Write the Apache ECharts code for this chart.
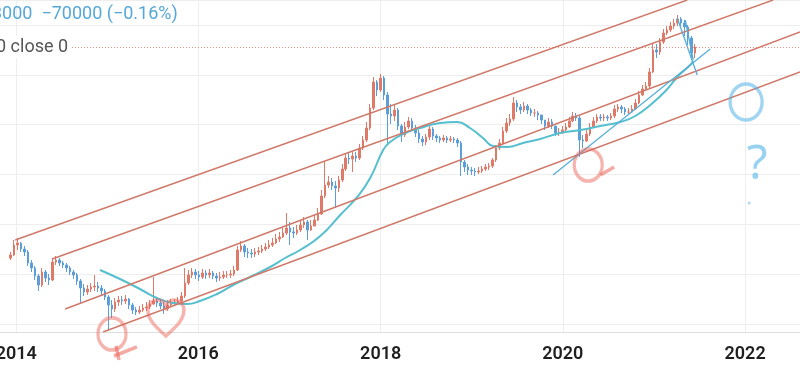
<!DOCTYPE html>
<html><head><meta charset="utf-8">
<script src="https://cdn.jsdelivr.net/npm/echarts@6/dist/echarts.min.js"></script>
<style>html,body{margin:0;padding:0;background:#fff}#c{width:800px;height:368px}</style>
</head><body><div id="c"></div>
<script>
// Prices in 만원 (10,000 KRW); converted to KRW when the option is built
const UNIT = 10000;
const candleStart = '2013-12-09';   // first bi-weekly candle
const candleStepDays = 14;
const firstOpen = 61.03;
const closes = [64.82,79.23,82.48,73.12,68.84,55.19,49.92,42.52,35.48,46.07,40.84,39.23,56.31,58.62,55.19,53.02,49.92,46.07,43.38,38.45,
33.41,30.84,32.75,34.09,34.78,33.41,31.46,27.89,23.75,21.92,25.23,26.26,25.74,26.79,23.75,21.48,20.63,21.48,22.36,22.82,
24.23,25.74,24.72,23.28,21.92,23.75,24.72,24.72,25.74,28.46,36.94,43.38,46.07,43.38,41.67,45.15,43.38,45.15,42.52,40.84,
41.67,43.38,43.38,44.26,47.96,71.66,77.66,68.84,67.47,66.13,68.84,70.23,73.12,76.12,79.23,82.48,89.40,93.06,100.8,111.5,
102.9,100.8,107.1,118.4,125.7,107.1,116.0,130.9,147.6,212.0,264.3,280.7,259.0,248.8,292.2,364.5,454.6,445.6,473.2,454.6,
555.7,652.5,830.3,1240.7,2091.2,1780.9,2266.1,1610.8,1099.8,1056.5,1191.8,864.3,721.4,847.2,955.6,830.3,751.0,665.8,626.8,693.0,
813.8,707.1,679.2,652.5,679.2,652.5,665.8,652.5,614.3,419.5,379.4,357.2,350.1,343.1,350.1,364.5,379.4,387.1,436.7,555.7,
614.3,781.7,918.0,994.8,1371.7,1265.9,1191.8,1291.5,1191.8,1122.1,1122.1,1078.0,975.0,864.3,936.6,864.3,751.0,766.2,797.6,847.2,
955.6,1056.5,1014.9,652.5,639.5,736.0,847.2,955.6,1035.5,1014.9,1035.5,1014.9,1056.5,1216.1,1265.9,1216.1,1144.8,1144.8,1216.1,1371.7,
1610.8,1817.1,1929.8,2556.2,3976.1,3819.5,4669.0,5593.8,5941.3,6438.3,6837.7,7410.2,6837.7,6310.5,5059.6,3743.6,4223.2];
const highs = [68.84,87.6,91.21,84.15,77.66,71.66,58.62,51.97,44.26,49.92,47.96,44.26,61.03,63.53,61.03,57.45,55.19,51.97,47.96,45.15,
40.03,36.20,35.48,36.94,43.38,37.68,35.48,32.75,29.03,26.26,27.34,28.46,28.46,29.03,27.34,24.72,22.82,23.28,24.23,25.23,
26.26,41.67,27.34,26.26,25.23,26.26,26.79,26.79,27.89,30.84,49.92,47.96,49.92,48.93,47.01,48.93,47.96,48.93,47.01,45.15,
46.07,47.01,47.01,47.96,51.97,77.66,85.86,80.84,74.60,73.12,74.60,76.12,79.23,82.48,87.6,91.21,98.83,102.9,111.5,150.6,
125.7,113.7,118.4,130.9,139.0,130.9,130.9,144.7,166.6,239.1,419.5,316.7,304.2,286.4,316.7,403.0,492.6,502.6,512.8,512.8,
602.1,707.1,936.6,1344.4,2312.1,2176.9,2455.6,2359.0,1710.7,1344.4,1317.8,1240.7,899.7,936.6,1035.5,1014.9,881.9,797.6,707.1,736.0,
864.3,847.2,736.0,707.1,721.4,707.1,707.1,693.0,679.2,639.5,436.7,403.0,379.4,371.9,379.4,387.1,403.0,411.2,454.6,590.2,
665.8,847.2,1014.9,1099.8,1547.4,1456.9,1344.4,1399.5,1344.4,1240.7,1216.1,1168.1,1056.5,975.0,1014.9,994.8,830.3,830.3,864.3,918.0,
1035.5,1144.8,1122.1,1056.5,721.4,797.6,918.0,1035.5,1099.8,1099.8,1099.8,1078.0,1122.1,1317.8,1344.4,1317.8,1265.9,1240.7,1317.8,1486.5,
1745.5,1969.0,2091.2,2770.1,4485.2,4485.2,5059.6,6062.1,6438.3,6976.4,7410.2,8029.9,7713.8,7262.6,6568.9,5266.9,4485.2];
const lows = [58.62,63.53,71.66,68.84,63.53,51.97,46.07,39.23,31.46,34.09,37.68,35.48,38.45,53.02,51.97,49.92,46.07,43.38,40.03,35.48,
24.72,28.46,29.03,30.84,31.46,30.84,29.03,26.26,14.38,18.29,20.63,23.28,23.75,24.23,21.92,19.82,19.43,19.82,20.63,21.05,
21.92,23.75,22.82,21.92,19.82,21.05,22.82,23.28,23.75,24.72,27.34,35.48,40.84,40.03,38.45,40.03,40.03,40.84,40.03,37.68,
38.45,40.03,40.84,40.84,42.52,47.01,68.84,62.27,61.03,61.03,62.27,64.82,67.47,70.23,73.12,76.12,80.84,84.15,91.21,96.87,
79.23,91.21,96.87,102.9,111.5,87.6,105.0,116.0,128.3,144.7,203.6,248.8,239.1,166.6,229.7,280.7,350.1,403.0,343.1,419.5,
436.7,533.8,626.8,797.6,1191.8,1578.8,1710.7,1456.9,614.3,899.7,955.6,797.6,626.8,693.0,813.8,781.7,693.0,614.3,578.4,590.2,
652.5,652.5,626.8,614.3,626.8,614.3,626.8,614.3,567.0,316.7,343.1,323.1,323.1,316.7,329.6,336.3,350.1,357.2,371.9,419.5,
533.8,590.2,751.0,864.3,955.6,1144.8,1099.8,1144.8,1099.8,1056.5,1035.5,975.0,899.7,797.6,830.3,813.8,707.1,707.1,736.0,766.2,
830.3,936.6,955.6,463.8,555.7,626.8,707.1,830.3,918.0,955.6,955.6,955.6,975.0,1014.9,1144.8,1122.1,1078.0,1078.0,1122.1,1191.8,
1344.4,1578.8,1745.5,1853.8,2505.4,3386.0,3596.4,4485.2,5373.9,5707.3,6062.1,6438.3,6310.5,5266.9,4396.2,3252.8,3386.0];

// Moving average
const maDates = ['2014-12-03','2015-02-21','2015-05-12','2015-07-19','2015-09-21','2015-11-16','2016-01-08','2016-03-16','2016-05-20','2016-07-27',
'2016-10-15','2016-12-14','2017-02-12','2017-05-04','2017-07-23','2017-09-29','2017-11-20','2018-01-11','2018-02-08','2018-04-01',
'2018-06-08','2018-08-27','2018-11-03','2018-12-25','2019-02-15','2019-03-28','2019-05-23','2019-07-26','2019-10-02','2019-12-21',
'2020-03-11','2020-05-31','2020-08-19','2020-10-18','2020-12-17','2021-02-16','2021-04-08','2021-05-26','2021-06-07'];
const maValues = [47.96,40.03,32.75,27.34,24.72,24.23,25.74,29.62,35.48,41.67,
50.94,61.03,71.66,94.94,144.7,207.8,304.2,533.8,626.8,736.0,
830.3,918.0,936.6,830.3,679.2,578.4,567.0,614.3,665.8,751.0,
797.6,864.3,936.6,1056.5,1317.8,1745.5,2359.0,2942.2,3188.1];

// Drawn channel lines: [date, price]
const channelA = [['2013-12-28', 87.6], ['2021-05-14', 10852]];
const channelB = [['2014-05-25', 59.81], ['2022-04-23', 10852]];
const channelC = [['2014-07-16', 21.92], ['2022-08-09', 5707.3]];
const channelD = [['2014-12-15', 13.81], ['2022-08-09', 2556.2]];
// Drawn blue trend lines
const trendLong = [['2019-11-23', 323.1], ['2021-08-14', 4057]];
const trendDrop1 = [['2021-04-04', 7560], ['2021-06-23', 2406.8]];
const trendDrop2 = [['2021-05-06', 7262.6], ['2021-06-07', 3252.8]];
// Hand-drawn marks
const redMarks = [['2015-01-20', 13.27], ['2020-04-12', 395.0]];
const heartMark = [['2015-08-24', 18.29]];
const blueMark = [['2022-01-05', 1399.5]];
const questionMark = [['2022-02-18', 395.0]];
const blueDot = [['2022-01-17', 184.2]];
const tail1 = [['2015-02-05', 10.43], ['2015-02-17', 7.871]];
const tail2 = [['2015-01-28', 8.529], ['2015-04-30', 10.22]];
const tail3 = [['2020-05-31', 323.1], ['2020-07-25', 379.4]];

const xTickDates = ['2014-01-01','2016-01-01','2018-01-01','2020-01-01','2022-01-01'];
const xRange = ['2013-10-28','2022-08-09'];
const yRange = [13.811, 10852];
const headerLine1 = '3000  −70000 (−0.16%)';
const headerLine2 = '0 close 0';

function ts(s){const p=s.split('-').map(Number);return Date.UTC(p[0],p[1]-1,p[2]);}
function pts(arr){return arr.map(d=>[ts(d[0]), d[1]*UNIT]);}

const startTs = ts(candleStart);
const candleData = closes.map((c,i)=>{
  const o = i===0 ? firstOpen : closes[i-1];
  const h = Math.max(highs[i], o, c), l = Math.min(lows[i], o, c);
  return [startTs + i*candleStepDays*86400000, o*UNIT, c*UNIT, l*UNIT, h*UNIT];
});
const lastClose = closes[closes.length-1]*UNIT;

const chLine = '#cf7868', blueLine = '#57afd8';
function lineSeries(data, color, width, z){
  return {type:'line', data:pts(data), symbol:'none', silent:true, z:z||3,
    lineStyle:{color:color, width:width}, animation:false};
}

const chart = echarts.init(document.getElementById('c'), null, {renderer:'canvas'});
chart.setOption({
  animation:false,
  backgroundColor:'#fff',
  grid:{left:0, right:0, top:0, bottom:36, containLabel:false, outerBoundsMode:'none'},
  xAxis:{type:'value', min:ts(xRange[0]), max:ts(xRange[1]), scale:true,
    axisLine:{show:true, lineStyle:{color:'#dedede'}},
    axisTick:{show:false, customValues:xTickDates.map(ts)},
    splitLine:{show:true, lineStyle:{color:'#eeeeee'}},
    axisLabel:{customValues:xTickDates.map(ts), margin:13,
      formatter:v=>String(new Date(v+3*86400000).getUTCFullYear()),
      color:'#1f1f1f', fontSize:18, fontWeight:600, fontFamily:'Liberation Sans Narrow, Roboto, sans-serif'}},
  yAxis:{type:'log', logBase:Math.E, min:yRange[0]*UNIT, max:yRange[1]*UNIT,
    axisLabel:{show:false}, axisLine:{show:false}, axisTick:{show:false},
    splitLine:{show:true, lineStyle:{color:'#eeeeee'}}},
  series:[
    {type:'candlestick', data:candleData, encode:{x:0, y:[1,2,3,4]}, barWidth:2, z:2,
      itemStyle:{color:'#e07a68', color0:'#5b9ed8', borderColor:'#e07a68', borderColor0:'#5b9ed8', borderWidth:1},
      markLine:{silent:true, symbol:'none', label:{show:false},
        lineStyle:{type:[1,2], color:'#e07a68', width:1, opacity:0.8},
        data:[{yAxis:lastClose}]}},
    {type:'line', data:maDates.map((d,i)=>[ts(d), maValues[i]*UNIT]), smooth:true, symbol:'none', z:3,
      lineStyle:{color:'#55bfcf', width:2}},
    lineSeries(channelA, chLine, 1.4), lineSeries(channelB, chLine, 1.4),
    lineSeries(channelC, chLine, 1.4), lineSeries(channelD, chLine, 1.4),
    lineSeries(trendLong, blueLine, 1.3), lineSeries(trendDrop1, blueLine, 1.3), lineSeries(trendDrop2, blueLine, 1.3),
    Object.assign(lineSeries(tail1, 'rgba(236,98,88,0.55)', 3.5, 5), {clip:false}),
    Object.assign(lineSeries(tail2, 'rgba(236,98,88,0.55)', 3.5, 5), {clip:false}),
    Object.assign(lineSeries(tail3, 'rgba(236,98,88,0.55)', 3.5, 5), {clip:false}),
    {type:'scatter', data:pts(redMarks), symbol:'circle', symbolSize:[28,32], clip:false, z:5, silent:true,
      itemStyle:{color:'transparent', borderColor:'rgba(236,98,88,0.6)', borderWidth:3.5}},
    {type:'scatter', data:pts(heartMark), clip:false, z:5, silent:true, symbolSize:[36,36],
      symbol:'path://M12,21 C9,18 3,14 3,8 C3,5 5.5,3 8,3 C10,3 11.5,4.5 12,6 C12.5,4.5 14,3 16,3 C18.5,3 21,5 21,8 C21,14 15,18 12,21 Z',
      itemStyle:{color:'transparent', borderColor:'rgba(236,98,88,0.6)', borderWidth:3.5}},
    {type:'scatter', data:pts(blueMark), symbol:'circle', symbolSize:[32,36], clip:false, z:5, silent:true,
      itemStyle:{color:'transparent', borderColor:'rgba(70,175,230,0.65)', borderWidth:3.5}},
    {type:'scatter', data:pts(questionMark), symbolSize:1, clip:false, z:5, silent:true,
      itemStyle:{color:'transparent'},
      label:{show:true, position:'inside', formatter:'?', fontSize:48, color:'rgba(70,175,230,0.7)', fontFamily:'Noto Sans'}},
    {type:'scatter', data:pts(blueDot), symbolSize:3, clip:false, z:5, silent:true,
      itemStyle:{color:'rgba(110,190,235,0.7)'}}
  ],
  graphic:[
    {type:'text', x:-8, y:14, z:100, style:{text:headerLine1, fill:'#55a8d8', font:'18px Roboto', verticalAlign:'middle'}},
    {type:'text', x:-4, y:47, z:100, style:{text:headerLine2, fill:'#555', font:'18px Roboto', verticalAlign:'middle',
      backgroundColor:'#fff', padding:[2,3,2,0]}}
  ]
});
</script></body></html>
